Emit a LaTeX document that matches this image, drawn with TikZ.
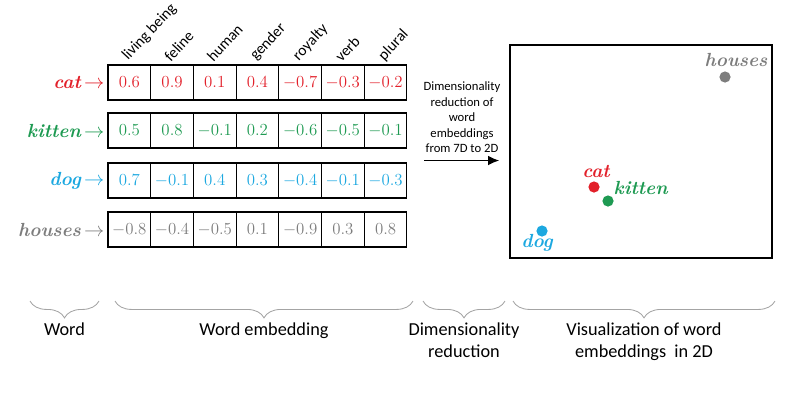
\documentclass[tikz,border=0pt]{standalone}
\usepackage{fontspec}
\newfontfamily\calibri{Carlito}
\usepackage{tikz}
\usetikzlibrary{arrows.meta}
\usetikzlibrary{decorations.pathreplacing}
\definecolor{emb-red}{HTML}{E2202A}
\definecolor{emb-green}{HTML}{1E9A52}
\definecolor{emb-blue}{HTML}{1CA8E0}
\definecolor{emb-gray}{HTML}{7D7D7D}

\begin{document}
\begin{tikzpicture}[x=0.025cm, y=-0.025cm,
    cell/.style={draw, line width=0.8pt, minimum width=1.0675cm, minimum height=0.875cm, inner sep=0pt, font=\fontsize{13}{15}\selectfont},
    word/.style={font=\fontsize{13.5}{16}\selectfont\bfseries\itshape, inner sep=1pt},
    header/.style={font=\calibri\fontsize{11}{13}\selectfont, anchor=south west, inner sep=0pt},
    caption/.style={font=\calibri\fontsize{13}{15.6}\selectfont, align=center, inner sep=0pt},
    dot/.style={circle, inner sep=0pt, minimum size=0.28cm},
    bracket/.style={decorate, decoration={brace, mirror, amplitude=12pt}, emb-gray!70, line width=0.6pt}]
    \useasboundingbox (0,0) rectangle (800,417);
    % Column headers
    \foreach \h [count=\i] in {living being, feline, human, gender, royalty, verb, plural}
        \node[header] (head-\i) at ({108+42.7*(\i-1)+12}, 63) {\rotatebox{47}{\h}};
    % Embedding rows
    \foreach \w/\c/\y/\vals in {cat/emb-red/82.5/{0.6,0.9,0.1,0.4,-0.7,-0.3,-0.2},
                                kitten/emb-green/130.5/{0.5,0.8,-0.1,0.2,-0.6,-0.5,-0.1},
                                dog/emb-blue/180.5/{0.7,-0.1,0.4,0.3,-0.4,-0.1,-0.3},
                                houses/emb-gray/229.5/{-0.8,-0.4,-0.5,0.1,-0.9,0.3,0.8}} {
        \node[word, text=\c, anchor=east] (\w) at (106,\y) {\w\,{\normalfont$\rightarrow$}};
        \foreach \v [count=\i] in \vals
            \node[cell, text=\c] (\w-\i) at ({108+42.7*(\i-0.5)}, \y) {$\v$};
    }
    % Dimensionality reduction
    \node[caption, font=\calibri\fontsize{9}{11}\selectfont, anchor=south] (dimred) at (462,153) {Dimensionality\\reduction of\\word\\embeddings\\from 7D to 2D};
    \node[draw, line width=0.8pt, minimum width=6.55cm, minimum height=5.325cm, inner sep=0pt] (scatter) at (641,151.5) {};
    \coordinate (arrow-tail) at (424,160.5);
    \draw[-{Latex[length=8pt,width=7pt]}, line width=1.4pt, shorten >=0.25cm] (arrow-tail) -- (scatter.west |- arrow-tail);
    % 2D points
    \foreach \w/\c/\x/\y in {houses/emb-gray/725/77, cat/emb-red/594/187, kitten/emb-green/608/201, dog/emb-blue/542/231}
        \node[dot, fill=\c] (\w-dot) at (\x,\y) {};
    \node[word, text=emb-gray, anchor=base] (houses-lbl) at (736,66) {houses};
    \node[word, text=emb-red, anchor=base] (cat-lbl) at (596,177) {cat};
    \node[word, text=emb-green, anchor=base west] (kitten-lbl) at (612,194) {kitten};
    \node[word, text=emb-blue, anchor=base] (dog-lbl) at (537,247) {dog};
    % Braces and captions
    \foreach \a/\b/\n/\t in {30/99/word/Word, 115/413/emb/Word embedding, 423/505/dim/Dimensionality\\reduction, 513/775/vis/Visualization of word\\embeddings\ \ in 2D} {
        \draw[bracket] (\a,301) -- (\b,301);
        \node[caption, anchor=north] (\n-cap) at ({(\a+\b)/2}, 323) {\t};
    }
\end{tikzpicture}
\end{document}
